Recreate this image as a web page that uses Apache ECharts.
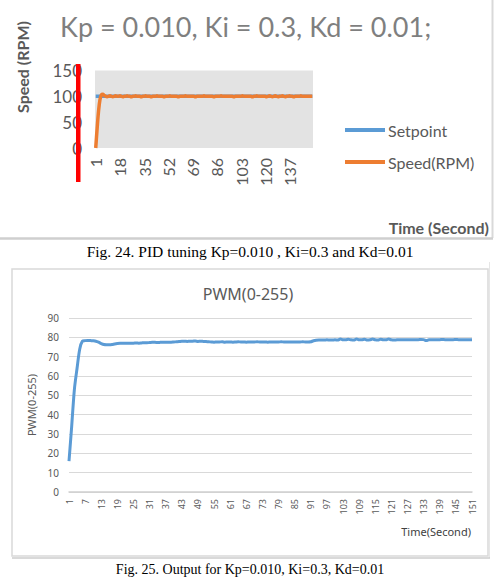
<!DOCTYPE html>
<html>
<head>
<meta charset="utf-8">
<script src="https://cdn.jsdelivr.net/npm/echarts@6/dist/echarts.min.js"></script>
<style>
  html, body { margin: 0; padding: 0; background: #fff; }
  #chart { width: 496px; height: 578px; }
</style>
</head>
<body>
<div id="chart"></div>
<script>
// Fig. 24 - speed response, one value per second
let speedTime = [];
for (let i = 1; i <= 153; i++) speedTime.push(String(i));

let setpoint = [
    100, 100, 100, 100, 100, 100, 100, 100, 100, 100, 100, 100, 100, 100, 100, 100, 100,
    100, 100, 100, 100, 100, 100, 100, 100, 100, 100, 100, 100, 100, 100, 100, 100, 100,
    100, 100, 100, 100, 100, 100, 100, 100, 100, 100, 100, 100, 100, 100, 100, 100, 100,
    100, 100, 100, 100, 100, 100, 100, 100, 100, 100, 100, 100, 100, 100, 100, 100, 100,
    100, 100, 100, 100, 100, 100, 100, 100, 100, 100, 100, 100, 100, 100, 100, 100, 100,
    100, 100, 100, 100, 100, 100, 100, 100, 100, 100, 100, 100, 100, 100, 100, 100, 100,
    100, 100, 100, 100, 100, 100, 100, 100, 100, 100, 100, 100, 100, 100, 100, 100, 100,
    100, 100, 100, 100, 100, 100, 100, 100, 100, 100, 100, 100, 100, 100, 100, 100, 100,
    100, 100, 100, 100, 100, 100, 100, 100, 100, 100, 100, 100, 100, 100, 100, 100, 100
];

let speedRpm = [
    0, 38, 72, 94, 103, 104, 102, 100, 99, 100, 101, 100, 99, 100, 101, 100, 100,
    101, 100, 99, 100, 100, 101, 100, 100, 99, 100, 100, 101, 100, 100, 100, 99, 100,
    100, 101, 100, 100, 100, 99, 100, 100, 100, 101, 100, 100, 100, 100, 99, 100, 100,
    100, 101, 100, 100, 100, 100, 100, 99, 100, 100, 100, 100, 101, 100, 100, 100, 100,
    100, 100, 99, 100, 100, 100, 100, 100, 101, 100, 100, 100, 100, 100, 100, 99, 100,
    100, 100, 100, 101, 100, 100, 100, 100, 100, 100, 100, 100, 99, 100, 100, 100, 100,
    100, 101, 100, 100, 100, 100, 100, 100, 99, 100, 100, 101, 100, 100, 100, 100, 100,
    100, 99, 100, 101, 100, 99, 100, 101, 100, 99, 100, 100, 101, 100, 99, 100, 100,
    101, 100, 100, 99, 100, 100, 100, 100, 101, 100, 100, 100, 100, 100, 100, 100, 100
];

// Fig. 25 - PWM output
let pwmTime = [];
for (let i = 1; i <= 151; i++) pwmTime.push(String(i));

let pwm = [
    16, 34, 53, 64, 74, 78, 78.3, 78.4, 78.3, 78.2,
    78.0, 77.5, 76.8, 76.3, 76.2, 76.2, 76.3, 76.6, 76.8, 76.9,
    76.9, 77.0, 76.9, 77.0, 77.0, 77.1, 77.0, 77.1, 77.2, 77.2,
    77.3, 77.4, 77.4, 77.3, 77.4, 77.5, 77.4, 77.5, 77.5, 77.6,
    77.7, 77.8, 78.0, 78.0, 77.9, 78.0, 78.0, 78.1, 77.9, 78.0,
    77.9, 77.8, 77.7, 77.6, 77.5, 77.6, 77.6, 77.7, 77.5, 77.6,
    77.6, 77.5, 77.6, 77.7, 77.6, 77.6, 77.5, 77.6, 77.6, 77.6,
    77.7, 77.6, 77.6, 77.6, 77.5, 77.6, 77.6, 77.6, 77.6, 77.7,
    77.6, 77.6, 77.6, 77.6, 77.6, 77.6, 77.6, 77.7, 77.6, 77.6,
    77.7, 78.2, 78.5, 78.6, 78.6, 78.6, 78.7, 78.6, 78.6, 78.7,
    78.6, 79.1, 78.7, 78.7, 79.0, 78.7, 78.6, 79.1, 78.7, 78.7,
    79.0, 78.6, 78.7, 79.1, 78.7, 78.6, 79.0, 78.7, 78.7, 79.1,
    78.7, 78.6, 78.7, 78.8, 78.8, 78.8, 78.8, 78.8, 78.8, 78.8,
    78.8, 78.9, 78.8, 78.3, 78.7, 78.8, 78.8, 78.8, 78.8, 78.9,
    78.8, 78.8, 78.8, 78.8, 78.9, 78.8, 78.8, 78.8, 78.8, 78.8,
    78.8
];

let speedTicks = [0, 50, 100, 150];
let pwmTicks = [0, 10, 20, 30, 40, 50, 60, 70, 80, 90];

let TOP_FONT = 'Lato, "Open Sans", sans-serif';
let LOW_FONT = '"Noto Sans", "Open Sans", sans-serif';
let SERIF = '"Liberation Serif", "DejaVu Serif", serif';

let myChart = echarts.init(document.getElementById('chart'), null, {renderer: 'svg'});

let option = {
    animation: false,
    backgroundColor: '#fff',
    title: [{
        text: 'Kp = 0.010, Ki = 0.3, Kd = 0.01;',
        left: 55,
        top: 8,
        textStyle: {fontFamily: TOP_FONT, fontSize: 27, fontWeight: 'normal', color: '#7f7f7f'}
    }, {
        text: 'PWM(0-255)',
        left: 'center',
        top: 281,
        textStyle: {fontFamily: LOW_FONT, fontSize: 16, fontWeight: 'normal', color: '#595959'}
    }],
    legend: {
        left: 340,
        top: 117,
        orient: 'vertical',
        icon: 'rect',
        itemWidth: 40,
        itemHeight: 4,
        itemGap: 16,
        data: ['Setpoint', 'Speed(RPM)'],
        textStyle: {fontFamily: TOP_FONT, fontSize: 16, color: '#595959', padding: [0, 0, 0, -2]}
    },
    grid: [{
        left: 95, top: 70.5, width: 218, height: 77.5,
        show: true, backgroundColor: '#e3e3e3', borderWidth: 0
    }, {
        left: 69, top: 318, width: 403, height: 174
    }],
    xAxis: [{
        gridIndex: 0,
        type: 'category',
        data: speedTime,
        boundaryGap: true,
        axisLine: {show: false},
        axisTick: {show: false},
        axisLabel: {interval: 16, rotate: 90, margin: 10, fontFamily: TOP_FONT, fontSize: 16, color: '#595959'}
    }, {
        gridIndex: 1,
        type: 'category',
        data: pwmTime,
        boundaryGap: false,
        axisLine: {lineStyle: {color: '#cfcfcf', width: 1.5}},
        axisTick: {show: false},
        axisLabel: {interval: 5, rotate: 90, margin: 7, fontFamily: LOW_FONT, fontSize: 9, color: '#595959'}
    }],
    yAxis: [{
        gridIndex: 0,
        type: 'value',
        min: speedTicks[0],
        max: speedTicks[speedTicks.length - 1],
        interval: 50,
        splitLine: {show: false},
        axisLabel: {margin: 13, fontFamily: TOP_FONT, fontSize: 17, color: '#595959'}
    }, {
        gridIndex: 1,
        type: 'value',
        min: pwmTicks[0],
        max: pwmTicks[pwmTicks.length - 1],
        interval: 10,
        name: 'PWM(0-255)',
        nameLocation: 'middle',
        nameGap: 31,
        nameTextStyle: {fontFamily: LOW_FONT, fontSize: 11, color: '#595959'},
        splitLine: {lineStyle: {color: '#d9d9d9', width: 1}},
        axisLabel: {margin: 10, fontFamily: LOW_FONT, fontSize: 10, color: '#595959'}
    }],
    series: [{
        name: 'Setpoint',
        type: 'line',
        xAxisIndex: 0, yAxisIndex: 0,
        data: setpoint,
        showSymbol: false,
        lineStyle: {color: '#5b9bd5', width: 3.5},
        itemStyle: {color: '#5b9bd5'}
    }, {
        name: 'Speed(RPM)',
        type: 'line',
        xAxisIndex: 0, yAxisIndex: 0,
        data: speedRpm,
        showSymbol: false,
        smooth: 0.3,
        lineStyle: {color: '#ed7d31', width: 3.5},
        itemStyle: {color: '#ed7d31'}
    }, {
        name: 'PWM',
        type: 'line',
        xAxisIndex: 1, yAxisIndex: 1,
        data: pwm,
        showSymbol: false,
        smooth: 0.3,
        lineStyle: {color: '#5b9bd5', width: 3},
        itemStyle: {color: '#5b9bd5'}
    }],
    graphic: [
        // figure 24 frame
        {type: 'line', shape: {x1: 492.5, y1: 0, x2: 492.5, y2: 238}, style: {stroke: '#d9d9d9', lineWidth: 2}},
        {type: 'line', shape: {x1: 0, y1: 238.5, x2: 493, y2: 238.5}, style: {stroke: '#cfcfcf', lineWidth: 2.5}},
        // red marker over the y axis
        {type: 'rect', shape: {x: 76, y: 64, width: 4.5, height: 118}, style: {fill: '#ff0000'}, z: 100},
        {
            type: 'text', x: 22, y: 67, rotation: Math.PI / 2,
            style: {text: 'Speed (RPM)', fontFamily: TOP_FONT, fontSize: 16, fontWeight: 'bold',
                fill: '#595959', align: 'center', verticalAlign: 'middle'}
        },
        {
            type: 'text', x: 489, y: 227,
            style: {text: 'Time (Second)', fontFamily: TOP_FONT, fontSize: 16, fontWeight: 'bold',
                fill: '#595959', align: 'right', verticalAlign: 'middle'}
        },
        {
            type: 'text', x: 250, y: 251,
            style: {text: 'Fig. 24. PID tuning Kp=0.010 , Ki=0.3 and Kd=0.01', fontFamily: SERIF,
                fontSize: 15.5, fill: '#000', align: 'center', verticalAlign: 'middle'}
        },
        // figure 25 frame
        {type: 'rect', shape: {x: 12, y: 269, width: 476, height: 287}, style: {fill: 'none', stroke: '#d9d9d9', lineWidth: 1.5}},
        {type: 'line', shape: {x1: 489.5, y1: 262, x2: 489.5, y2: 558}, style: {stroke: '#e6e6e6', lineWidth: 1}},
        {type: 'line', shape: {x1: 12, y1: 558, x2: 490, y2: 558}, style: {stroke: '#cccccc', lineWidth: 1.5}},
        {
            type: 'text', x: 471, y: 531,
            style: {text: 'Time(Second)', fontFamily: LOW_FONT, fontSize: 11, fill: '#404040',
                align: 'right', verticalAlign: 'middle'}
        },
        {
            type: 'text', x: 250, y: 569,
            style: {text: 'Fig. 25. Output for Kp=0.010, Ki=0.3, Kd=0.01', fontFamily: SERIF,
                fontSize: 14, fill: '#000', align: 'center', verticalAlign: 'middle'}
        }
    ]
};

myChart.setOption(option);
</script>
</body>
</html>
